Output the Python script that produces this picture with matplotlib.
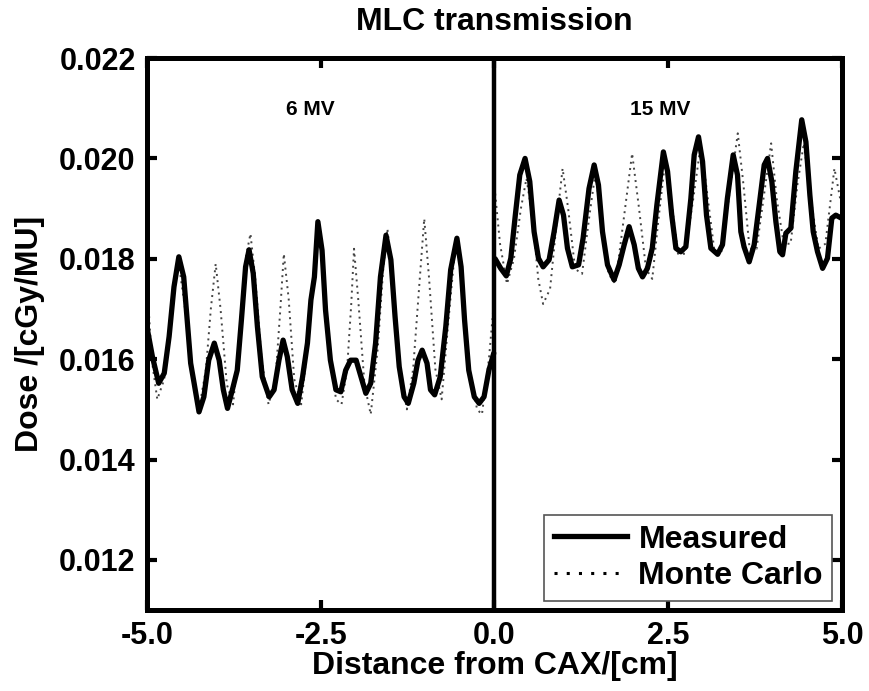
import matplotlib
matplotlib.use("Agg")
import matplotlib.pyplot as plt
from matplotlib.ticker import FormatStrFormatter
from matplotlib.lines import Line2D

plt.rcParams['font.family'] = ['Liberation Sans', 'DejaVu Sans']
plt.rcParams['font.weight'] = 'bold'

# ---- data ----
# 6 MV, measured
x_meas_6 = [-5.00, -4.92, -4.83, -4.75, -4.68, -4.61, -4.54, -4.47, -4.42, -4.37, -4.32, -4.25,
            -4.18, -4.11, -4.03, -3.96, -3.90, -3.84, -3.77, -3.70, -3.64, -3.58, -3.53, -3.47,
            -3.41, -3.34, -3.24, -3.17, -3.10, -3.04, -2.98, -2.91, -2.83, -2.76, -2.69, -2.64,
            -2.59, -2.54, -2.48, -2.43, -2.36, -2.28, -2.21, -2.14, -2.07, -1.99, -1.92, -1.85,
            -1.78, -1.71, -1.64, -1.56, -1.49, -1.43, -1.37, -1.30, -1.24, -1.16, -1.10, -1.04,
            -0.97, -0.92, -0.86, -0.78, -0.70, -0.63, -0.54, -0.48, -0.43, -0.37, -0.29, -0.22,
            -0.15, -0.08, -0.01]
y_meas_6 = [0.01665, 0.01605, 0.01552, 0.01572, 0.01645, 0.01744, 0.01804, 0.01764, 0.01678, 0.01592, 0.01552, 0.01495,
            0.01525, 0.01598, 0.01632, 0.01598, 0.01539, 0.01502, 0.01539, 0.01578, 0.01678, 0.01784, 0.01818, 0.01771,
            0.01665, 0.01565, 0.01525, 0.01539, 0.01598, 0.01638, 0.01605, 0.01539, 0.01512, 0.01565, 0.01632, 0.01718,
            0.01764, 0.01874, 0.01817, 0.01698, 0.01598, 0.01539, 0.01535, 0.01578, 0.01598, 0.01598, 0.01565, 0.01532,
            0.01552, 0.01632, 0.01764, 0.01847, 0.01798, 0.01685, 0.01585, 0.01525, 0.01512, 0.01552, 0.01598, 0.01618,
            0.01592, 0.01539, 0.01529, 0.01565, 0.01665, 0.01778, 0.01841, 0.01784, 0.01678, 0.01578, 0.01525, 0.01512,
            0.01525, 0.01578, 0.01612]

# 6 MV, Monte Carlo
x_mc_6 = [-5.00, -4.93, -4.85, -4.75, -4.65, -4.55, -4.45, -4.35, -4.25, -4.15, -4.08, -4.01, -3.94,
          -3.85, -3.76, -3.66, -3.58, -3.51, -3.44, -3.35, -3.25, -3.15, -3.08, -3.03, -2.96, -2.88,
          -2.78, -2.67, -2.58, -2.53, -2.46, -2.38, -2.28, -2.20, -2.12, -2.06, -2.02, -1.96, -1.87,
          -1.78, -1.68, -1.60, -1.54, -1.47, -1.38, -1.26, -1.17, -1.08, -1.01, -0.94, -0.85, -0.76,
          -0.66, -0.58, -0.53, -0.46, -0.36, -0.25, -0.18, -0.08, -0.01]
y_mc_6 = [0.0176, 0.0160, 0.0152, 0.0156, 0.0170, 0.0180, 0.0170, 0.0157, 0.0150, 0.0158, 0.0170, 0.0179, 0.0170,
          0.0155, 0.0151, 0.0165, 0.0180, 0.0185, 0.0176, 0.0160, 0.0151, 0.0156, 0.0170, 0.0181, 0.0172, 0.0156,
          0.0151, 0.0165, 0.0180, 0.0187, 0.0178, 0.0163, 0.0152, 0.0151, 0.0158, 0.0171, 0.0182, 0.0172, 0.0155,
          0.0149, 0.0162, 0.0178, 0.0186, 0.0177, 0.0160, 0.0150, 0.0158, 0.0175, 0.0188, 0.0176, 0.0158, 0.0152,
          0.0168, 0.0180, 0.0184, 0.0175, 0.0158, 0.0150, 0.0149, 0.0160, 0.0171]

# 15 MV, measured
x_meas_15 = [0.01, 0.09, 0.17, 0.235, 0.30, 0.364, 0.44, 0.508, 0.57, 0.633, 0.70, 0.786, 0.858, 0.93,
             0.993, 1.05, 1.12, 1.21, 1.275, 1.36, 1.434, 1.496, 1.554, 1.626, 1.72, 1.794, 1.866, 1.937,
             2.01, 2.07, 2.13, 2.20, 2.27, 2.336, 2.43, 2.49, 2.55, 2.61, 2.68, 2.753, 2.825, 2.873, 2.935,
             2.993, 3.05, 3.113, 3.21, 3.28, 3.35, 3.434, 3.496, 3.544, 3.59, 3.664, 3.736, 3.808, 3.88,
             3.928, 3.99, 4.048, 4.105, 4.144, 4.192, 4.263, 4.335, 4.42, 4.48, 4.537, 4.585, 4.647, 4.72,
             4.79, 4.853, 4.91, 4.99]
y_meas_15 = [0.01800, 0.01781, 0.01766, 0.01801, 0.01887, 0.01967, 0.02000, 0.01954, 0.01854, 0.01801, 0.01784, 0.01798, 0.01854, 0.01917,
             0.01887, 0.01821, 0.01784, 0.01788, 0.01841, 0.01940, 0.01987, 0.01947, 0.01854, 0.01788, 0.01758, 0.01788, 0.01828, 0.01864,
             0.01828, 0.01781, 0.01764, 0.01781, 0.01821, 0.01907, 0.02013, 0.01974, 0.01887, 0.01821, 0.01814, 0.01824, 0.01920, 0.02007, 0.02043,
             0.01994, 0.01887, 0.01821, 0.01809, 0.01828, 0.01920, 0.02007, 0.01967, 0.01854, 0.01824, 0.01794, 0.01828, 0.01907, 0.01987,
             0.02000, 0.01954, 0.01874, 0.01814, 0.01808, 0.01851, 0.01861, 0.01974, 0.02077, 0.02033, 0.01927, 0.01854, 0.01814, 0.01781,
             0.01801, 0.01881, 0.01887, 0.01881]

# 15 MV, Monte Carlo
x_mc_15 = [0.01, 0.08, 0.18, 0.28, 0.38, 0.46, 0.55, 0.63, 0.70, 0.80, 0.90, 0.98, 1.06, 1.16, 1.26,
           1.36, 1.45, 1.54, 1.64, 1.74, 1.86, 1.98, 2.08, 2.18, 2.27, 2.36, 2.46, 2.55, 2.64, 2.74,
           2.86, 2.97, 3.06, 3.16, 3.26, 3.38, 3.50, 3.58, 3.67, 3.77, 3.88, 3.98, 4.06, 4.16, 4.26,
           4.36, 4.45, 4.55, 4.66, 4.76, 4.89, 5.00]
y_mc_15 = [0.0193, 0.0183, 0.0175, 0.0180, 0.0190, 0.0196, 0.0188, 0.0176, 0.0171, 0.0174, 0.0188, 0.0198, 0.0190, 0.0178, 0.0177,
           0.0188, 0.0197, 0.0188, 0.0177, 0.0175, 0.0188, 0.0201, 0.0190, 0.0178, 0.0176, 0.0188, 0.0200, 0.0191, 0.0181, 0.0181,
           0.0192, 0.0203, 0.0193, 0.0182, 0.0181, 0.0193, 0.0205, 0.0195, 0.0182, 0.0182, 0.0193, 0.0203, 0.0192, 0.0183, 0.0183,
           0.0195, 0.0203, 0.0192, 0.0182, 0.0183, 0.0198, 0.0190]

x_ticks = [-5.0, -2.5, 0.0, 2.5, 5.0]
y_ticks = [0.012, 0.014, 0.016, 0.018, 0.020, 0.022]
title = "MLC transmission"
xlabel = "Distance from CAX/[cm]"
ylabel = "Dose /[cGy/MU]"
labels = ["Measured", "Monte Carlo"]
annot = [("6 MV", -2.65, 0.02098), ("15 MV", 2.39, 0.02098)]

# ---- figure ----
fig = plt.figure(figsize=(8.69, 6.91), dpi=100)
ax = fig.add_axes([0.169, 0.117, 0.800, 0.799])

lw_meas = 3.8
lw_mc = 1.4
mc_style = (0, (1, 2.2))
ax.plot(x_mc_6, y_mc_6, color='#444444', lw=lw_mc, ls=mc_style, zorder=2)
ax.plot(x_mc_15, y_mc_15, color='#444444', lw=lw_mc, ls=mc_style, zorder=2)
ax.plot(x_meas_6, y_meas_6, color='black', lw=lw_meas, zorder=3,
        solid_joinstyle='round', solid_capstyle='round')
ax.plot(x_meas_15, y_meas_15, color='black', lw=lw_meas, zorder=3,
        solid_joinstyle='round', solid_capstyle='round')

ax.axvline(0.0, color='black', lw=3.2, zorder=4)

ax.set_xlim(-5, 5)
ax.set_ylim(0.011, 0.022)
ax.set_xticks(x_ticks)
ax.set_yticks(y_ticks)
ax.xaxis.set_major_formatter(FormatStrFormatter('%.1f'))
ax.yaxis.set_major_formatter(FormatStrFormatter('%.3f'))
ax.tick_params(direction='in', length=7, width=3, top=True, right=True,
               labelsize=22, pad=8)
for lab in ax.get_xticklabels() + ax.get_yticklabels():
    lab.set_fontweight('bold')
for s in ax.spines.values():
    s.set_linewidth(3.6)

ax.set_title(title, fontsize=23, fontweight='bold', pad=20)
ax.set_xlabel(xlabel, fontsize=23, fontweight='bold', labelpad=0)
ax.set_ylabel(ylabel, fontsize=23, fontweight='bold', labelpad=10)

for txt, xx, yy in annot:
    ax.text(xx, yy, txt, fontsize=15, fontweight='bold', ha='center', va='center')

h1 = Line2D([], [], color='black', lw=lw_meas)
h2 = Line2D([], [], color='black', lw=2.2, ls=(0, (1, 3)))
leg = ax.legend([h1, h2], labels, loc='lower right',
                prop={'weight': 'bold', 'size': 23}, fancybox=False,
                edgecolor='#555555', framealpha=1, handlelength=2.3,
                handletextpad=0.35, borderpad=0.3, labelspacing=0.2,
                borderaxespad=0.3)
leg.get_frame().set_linewidth(1.2)

fig.savefig("out.png", dpi=100)
